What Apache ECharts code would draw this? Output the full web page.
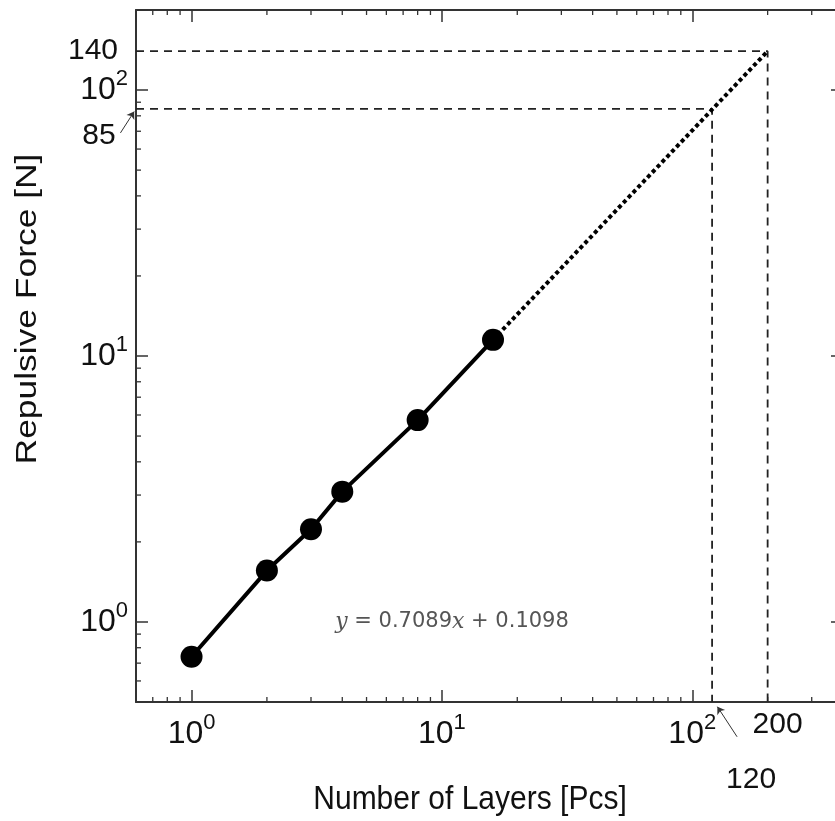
<!DOCTYPE html>
<html>
<head>
<meta charset="utf-8">
<script src="https://cdn.jsdelivr.net/npm/echarts@6/dist/echarts.min.js"></script>
<style>
  html, body { margin: 0; padding: 0; background: #fff; }
  #main { width: 835px; height: 821px; }
</style>
</head>
<body>
<div id="main"></div>
<script>
// measured points (log-log)
var layers = [1, 2, 3, 4, 8, 16];
var force = [0.74, 1.56, 2.23, 3.09, 5.74, 11.5];

// dotted extrapolation
var extrapLayers = [16, 200];
var extrapForce = [11.5, 140];

// dashed guide lines
var guideLayers = [120, 200];
var guideForce = [85, 140];

// axis ranges
var X_MIN = 0.6, X_MAX = 400;
var Y_MIN = 0.5, Y_MAX = 200;

// minor ticks
var xMinorTicks = [0.7, 0.8, 0.9, 2, 3, 4, 5, 6, 7, 8, 9, 20, 30, 40, 50, 60, 70, 80, 90, 200, 300];
var yMinorTicks = [0.6, 0.7, 0.8, 0.9, 2, 3, 4, 5, 6, 7, 8, 9, 20, 30, 40, 50, 60, 70, 80, 90];

// annotation arrows (tail, head)
var arrow85 = [[0.52, 69], [0.59, 83]];
var arrow120 = [[151, 0.37], [126, 0.48]];

var FONT = "'Liberation Sans', Arial, sans-serif";
var AXIS_COLOR = '#333';

var chart = echarts.init(document.getElementById('main'));

function pairs(xs, ys) {
    var out = [];
    for (var i = 0; i < xs.length; i++) out.push([xs[i], ys[i]]);
    return out;
}

// 10^n labels only at decades
function powLabel(v) {
    var e = Math.log(v) / Math.LN10;
    if (Math.abs(e - Math.round(e)) > 1e-6) return '';
    return '{b|10}{s|' + Math.round(e) + '}';
}

var labelRich = {
    b: { fontSize: 32, fontFamily: FONT, color: '#111', lineHeight: 44 },
    s: { fontSize: 22, fontFamily: FONT, color: '#111', verticalAlign: 'top', lineHeight: 21 }
};

function xAxisCfg(pos, withLabel) {
    return {
        type: 'log', logBase: 10, position: pos,
        min: X_MIN, max: X_MAX,
        axisLine: { show: true, onZero: false, lineStyle: { color: AXIS_COLOR, width: 2 } },
        axisTick: { show: true, inside: true, length: 12, lineStyle: { color: AXIS_COLOR, width: 1.5 } },
        axisLabel: { show: withLabel, margin: 10, formatter: powLabel, rich: labelRich },
        splitLine: { show: false }
    };
}

function yAxisCfg(pos, withLabel) {
    return {
        type: 'log', logBase: 10, position: pos,
        min: Y_MIN, max: Y_MAX,
        axisLine: { show: true, onZero: false, lineStyle: { color: AXIS_COLOR, width: 2 } },
        axisTick: { show: true, inside: true, length: 12, lineStyle: { color: AXIS_COLOR, width: 1.5 } },
        axisLabel: { show: withLabel, margin: 8, formatter: powLabel, rich: labelRich },
        splitLine: { show: false }
    };
}

// minor ticks drawn through the axis scale
function xMinorItem(params, api) {
    var cs = params.coordSys;
    var px = api.coord([api.value(0), Y_MIN])[0];
    var top = cs.y, bottom = cs.y + cs.height;
    var st = { stroke: AXIS_COLOR, lineWidth: 1.3 };
    return {
        type: 'group',
        children: [
            { type: 'line', shape: { x1: px, y1: bottom, x2: px, y2: bottom - 5 }, style: st },
            { type: 'line', shape: { x1: px, y1: top, x2: px, y2: top + 5 }, style: st }
        ]
    };
}
function yMinorItem(params, api) {
    var cs = params.coordSys;
    var py = api.coord([X_MIN, api.value(1)])[1];
    var left = cs.x, right = cs.x + cs.width;
    var st = { stroke: AXIS_COLOR, lineWidth: 1.3 };
    return {
        type: 'group',
        children: [
            { type: 'line', shape: { x1: left, y1: py, x2: left + 5, y2: py }, style: st },
            { type: 'line', shape: { x1: right, y1: py, x2: right - 5, y2: py }, style: st }
        ]
    };
}

function textPoint(x, y, text, offset) {
    return {
        type: 'scatter', clip: false, silent: true, symbolSize: 0,
        data: [[x, y]],
        itemStyle: { opacity: 1 },
        label: {
            show: true, position: 'inside', offset: offset, formatter: text,
            fontSize: 30, fontFamily: FONT, color: '#111'
        }
    };
}

var option = {
    animation: false,
    backgroundColor: '#fff',
    grid: { left: 136, top: 10, right: -8, bottom: 119, outerBoundsMode: 'none', containLabel: false },
    xAxis: [xAxisCfg('bottom', true), xAxisCfg('top', false)],
    yAxis: [yAxisCfg('left', true), yAxisCfg('right', false)],
    series: [
        {
            type: 'custom', renderItem: xMinorItem, silent: true,
            data: xMinorTicks.map(function (v) { return [v, Y_MIN]; }),
            encode: { x: 0, y: 1 }
        },
        {
            type: 'custom', renderItem: yMinorItem, silent: true,
            data: yMinorTicks.map(function (v) { return [X_MIN, v]; }),
            encode: { x: 0, y: 1 }
        },
        {
            // 140 guide
            type: 'line', symbol: 'none', silent: true, clip: false,
            data: [[X_MIN, guideForce[1]], [guideLayers[1], guideForce[1]], [guideLayers[1], Y_MIN]],
            lineStyle: { color: '#222', width: 1.8, type: [8, 6] }
        },
        {
            // 85 guide
            type: 'line', symbol: 'none', silent: true, clip: false,
            data: [[X_MIN, guideForce[0]], [guideLayers[0], guideForce[0]], [guideLayers[0], Y_MIN]],
            lineStyle: { color: '#222', width: 1.8, type: [8, 6] }
        },
        {
            type: 'line', symbol: 'none', silent: true,
            data: pairs(extrapLayers, extrapForce),
            lineStyle: { color: '#000', width: 4, type: [4, 3] }
        },
        {
            type: 'line', symbol: 'circle', symbolSize: 22, z: 5,
            data: pairs(layers, force),
            itemStyle: { color: '#000' },
            lineStyle: { color: '#000', width: 4 }
        },
        {
            type: 'lines', coordinateSystem: 'cartesian2d', clip: false, silent: true,
            symbol: ['none', 'arrow'], symbolSize: 7,
            data: [{ coords: arrow85 }, { coords: arrow120 }],
            lineStyle: { color: '#333', width: 1, opacity: 1 }
        },
        textPoint(X_MIN, guideForce[1], '140', [-43, 0]),
        textPoint(X_MIN, guideForce[0], '85', [-37, 27]),
        textPoint(guideLayers[1], Y_MIN, '200', [10, 23]),
        textPoint(guideLayers[0], Y_MIN, '120', [39, 78])
    ],
    graphic: [
        {
            type: 'text', x: 28, y: 309, rotation: Math.PI / 2, scaleX: 1.18,
            style: {
                text: 'Repulsive Force [N]', fontSize: 30, fontFamily: FONT,
                fill: '#111', align: 'center', verticalAlign: 'middle'
            }
        },
        {
            type: 'text', x: 470, y: 800, scaleY: 1.12,
            style: {
                text: 'Number of Layers [Pcs]', fontSize: 30, fontFamily: FONT,
                fill: '#111', align: 'center', verticalAlign: 'middle'
            }
        },
        {
            type: 'text', x: 452, y: 622,
            style: {
                text: '{v|y}{n| = 0.7089}{v|x}{n| + 0.1098}',
                align: 'center', verticalAlign: 'middle',
                rich: {
                    v: { fontSize: 22, fontStyle: 'italic', fontFamily: "'DejaVu Serif', serif", fill: '#555' },
                    n: { fontSize: 21, fontFamily: "'DejaVu Sans', sans-serif", fill: '#555' }
                }
            }
        }
    ]
};

chart.setOption(option);
</script>
</body>
</html>
